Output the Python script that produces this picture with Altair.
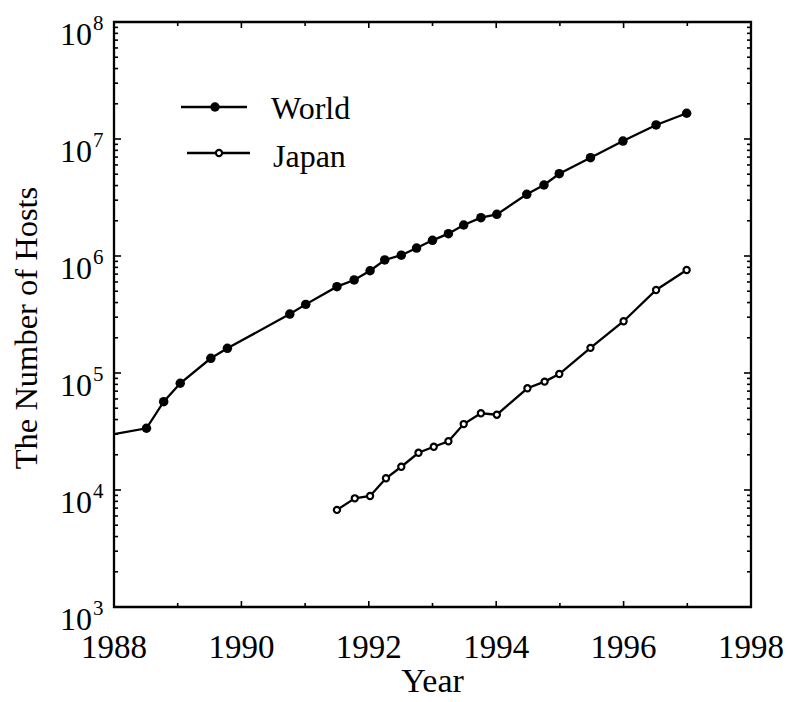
import altair as alt
import pandas as pd

# ---- data ----
world_years = [1988.0, 1988.51, 1988.78, 1989.04, 1989.52, 1989.78, 1990.76, 1991.01,
               1991.50, 1991.77, 1992.02, 1992.25, 1992.51, 1992.75, 1993.00, 1993.25,
               1993.49, 1993.76, 1994.01, 1994.48, 1994.75, 1994.99, 1995.48, 1995.99,
               1996.51, 1996.99]
world_hosts = [30100, 33700, 56900, 81700, 133600, 162600, 319000, 386000,
               547000, 624000, 748000, 925000, 1016000, 1170000, 1361000, 1552000,
               1841000, 2124000, 2270000, 3364000, 4045000, 5050000, 6920000, 9610000,
               13180000, 16600000]
japan_years = [1991.50, 1991.78, 1992.02, 1992.27, 1992.51, 1992.78, 1993.02, 1993.25,
               1993.49, 1993.76, 1994.01, 1994.49, 1994.76, 1994.99, 1995.48, 1996.00,
               1996.51, 1996.99]
japan_hosts = [6760, 8490, 8890, 12600, 15800, 20800, 23400, 26100,
               36600, 45300, 44000, 74000, 84400, 98000, 164000, 277000,
               512000, 759000]

x_label_years = [1988, 1990, 1992, 1994, 1996, 1998]
x_major_ticks = [1990, 1992, 1994, 1996]
x_minor_ticks = [1989, 1991, 1993, 1995, 1997]
y_exponents = [3, 4, 5, 6, 7, 8]
y_major_ticks = [1e4, 1e5, 1e6, 1e7]
y_minor_ticks = [k * 10 ** e for e in [3, 4, 5, 6, 7] for k in range(2, 10)]

series_names = ["World", "Japan"]
x_title = "Year"
y_title = "The Number of Hosts"

# ---- layout ----
W, H = 637, 585
FONT = "Liberation Serif"
LW = 2.3
WORLD_SIZE = 90
JAPAN_SIZE = 38

xs = alt.Scale(domain=[1988, 1998], nice=False, zero=False)
ys = alt.Scale(type="log", domain=[1e3, 1e8], nice=False)

world_df = pd.DataFrame({"year": world_years, "hosts": world_hosts})
japan_df = pd.DataFrame({"year": japan_years, "hosts": japan_hosts})

X = alt.X("year:Q", scale=xs, axis=None)
Y = alt.Y("hosts:Q", scale=ys, axis=None)

line_w = alt.Chart(world_df).mark_line(color="black", strokeWidth=LW).encode(x=X, y=Y)
pts_w = alt.Chart(world_df).transform_filter("datum.year > 1988").mark_point(
    shape="circle", filled=True, size=WORLD_SIZE, color="black", opacity=1).encode(x=X, y=Y)
line_j = alt.Chart(japan_df).mark_line(color="black", strokeWidth=LW).encode(x=X, y=Y)
pts_j = alt.Chart(japan_df).mark_point(
    shape="circle", filled=True, size=JAPAN_SIZE, fill="white", stroke="black",
    strokeWidth=2.2, opacity=1).encode(x=X, y=Y)

# ---- ticks (inward, on all four sides) ----
def xticks(vals, length):
    df = pd.DataFrame({"year": vals})
    bx = alt.X("year:Q", scale=xs, axis=None)
    bottom = alt.Chart(df).mark_rule(color="black", strokeWidth=1.6).encode(
        x=bx, y=alt.value(H), y2=alt.value(H - length))
    top = alt.Chart(df).mark_rule(color="black", strokeWidth=1.6).encode(
        x=bx, y=alt.value(0), y2=alt.value(length))
    return [bottom, top]

def yticks(vals, length):
    df = pd.DataFrame({"v": vals})
    by = alt.Y("v:Q", scale=ys, axis=None)
    left = alt.Chart(df).mark_rule(color="black", strokeWidth=1.6).encode(
        y=by, x=alt.value(0), x2=alt.value(length))
    right = alt.Chart(df).mark_rule(color="black", strokeWidth=1.6).encode(
        y=by, x=alt.value(W), x2=alt.value(W - length))
    return [left, right]

tick_layers = (xticks(x_major_ticks, 6) + xticks(x_minor_ticks, 4)
               + yticks(y_major_ticks, 7) + yticks(y_minor_ticks, 4))

# ---- tick labels ----
xlab_df = pd.DataFrame({"year": x_label_years, "label": [str(y) for y in x_label_years]})
xlabels = alt.Chart(xlab_df).mark_text(
    align="center", baseline="alphabetic", fontSize=33, font=FONT, color="black").encode(
    x=alt.X("year:Q", scale=xs, axis=None), y=alt.value(H + 51), text="label:N")

ylab_df = pd.DataFrame({"v": [10.0 ** e for e in y_exponents],
                        "e": [str(e) for e in y_exponents]})
ylab_base = alt.Chart(ylab_df).mark_text(
    align="right", baseline="alphabetic", dy=23, fontSize=32, font=FONT, color="black").encode(
    y=alt.Y("v:Q", scale=ys, axis=None), x=alt.value(-22), text=alt.value("10"))
ylab_exp = alt.Chart(ylab_df).mark_text(
    align="left", baseline="alphabetic", dy=8, fontSize=21, font=FONT, color="black").encode(
    y=alt.Y("v:Q", scale=ys, axis=None), x=alt.value(-21), text="e:N")

# ---- axis titles ----
one = pd.DataFrame({"k": [0]})
xt = alt.Chart(one).mark_text(
    align="center", baseline="alphabetic", fontSize=34, font=FONT, color="black").encode(
    x=alt.value(W / 2), y=alt.value(670), text=alt.value(x_title))
yt = alt.Chart(one).mark_text(
    align="center", baseline="alphabetic", angle=270, fontSize=32.5, font=FONT, color="black").encode(
    x=alt.value(-77), y=alt.value(306), text=alt.value(y_title))

# ---- legend ----
leg = []
leg_specs = [  # (name, line x0, x1, y, marker x, text x, text baseline, filled)
    (series_names[0], 67, 133, 85, 101, 157, 97, True),
    (series_names[1], 73, 136, 131, 105, 159, 145, False),
]
for name, x0, x1, yy, mx, tx, ty, filled in leg_specs:
    df = pd.DataFrame({"name": [name]})
    leg.append(alt.Chart(df).mark_rule(color="black", strokeWidth=LW).encode(
        x=alt.value(x0), x2=alt.value(x1), y=alt.value(yy)))
    if filled:
        leg.append(alt.Chart(df).mark_point(shape="circle", filled=True, size=WORLD_SIZE,
                                            color="black", opacity=1).encode(
            x=alt.value(mx), y=alt.value(yy)))
    else:
        leg.append(alt.Chart(df).mark_point(shape="circle", filled=True, size=JAPAN_SIZE,
                                            fill="white", stroke="black", strokeWidth=2.2,
                                            opacity=1).encode(
            x=alt.value(mx), y=alt.value(yy)))
    leg.append(alt.Chart(df).mark_text(align="left", baseline="alphabetic", fontSize=32,
                                       font=FONT, color="black").encode(
        x=alt.value(tx), y=alt.value(ty), text="name:N"))

chart = alt.layer(
    *tick_layers, line_w, line_j, pts_w, pts_j, xlabels, ylab_base, ylab_exp, xt, yt, *leg
).properties(
    width=W, height=H,
    padding={"left": 114, "top": 22, "right": 38, "bottom": 95},
    autosize=alt.AutoSizeParams(type="none"),
    background="white",
).configure_view(stroke="black", strokeWidth=2.3)

chart.save("out.html", embed_options={"renderer": "svg", "actions": False})
